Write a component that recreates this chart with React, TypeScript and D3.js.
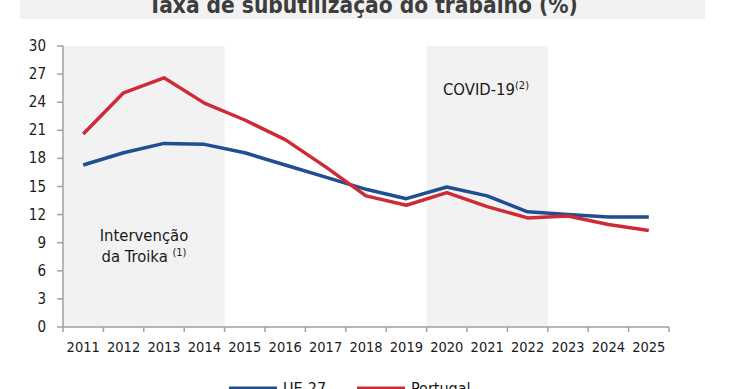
import React from "react";
import * as d3 from "d3";

const years = ["2011","2012","2013","2014","2015","2016","2017","2018","2019","2020","2021","2022","2023","2024","2025"];
const ue27 = [17.3, 18.6, 19.6, 19.5, 18.6, 17.3, 16.0, 14.7, 13.7, 14.95, 14.0, 12.3, 12.0, 11.75, 11.75];
const portugal = [20.6, 25.0, 26.6, 23.9, 22.1, 20.0, 17.1, 14.0, 13.0, 14.35, 12.85, 11.65, 11.85, 10.95, 10.3];
const yTicks = [0, 3, 6, 9, 12, 15, 18, 21, 24, 27, 30];
const shadedPeriods = [
  { from: "2011", to: "2014" },
  { from: "2020", to: "2022" },
];
const title = "Taxa de subutilização do trabalho (%)";
const legendItems = [
  { name: "UE-27", color: "#1f4e93" },
  { name: "Portugal", color: "#cf2b37" },
];

const FONT = "'DejaVu Sans Condensed', 'Noto Sans', sans-serif";

export default function App() {
  const W = 740, H = 389;
  const left = 63, right = 669, top = 46, bottom = 327;
  const x = d3.scaleBand().domain(years).range([left, right]).padding(0);
  const y = d3.scaleLinear().domain([0, 30]).range([bottom, top]);
  const cx = (yr: string) => (x(yr) as number) + x.bandwidth() / 2;

  const line = (vals: number[]) =>
    d3.line<number>().x((_, i) => cx(years[i])).y((v) => y(v))(vals) as string;

  const axisColor = "#a0a0a0";
  const textColor = "#1a1a1a";

  return (
    <svg width={W} height={H} style={{ position: "fixed", left: 0, top: 0, background: "#fff" }} fontFamily={FONT}>
      {/* title */}
      <rect x={20} y={-5} width={685} height={24} fill="#f2f2f2" />
      <text x={363} y={13} textAnchor="middle" fontSize={22.5} fontWeight="bold" fill="#3d3d3d">{title}</text>

      {/* shaded periods */}
      {shadedPeriods.map((p, i) => (
        <rect key={i} x={x(p.from) as number} y={top}
          width={(x(p.to) as number) + x.bandwidth() - (x(p.from) as number)}
          height={bottom - top} fill="#f2f2f2" />
      ))}

      {/* annotations */}
      <text x={144} y={241} textAnchor="middle" fontSize={16.5} fill={textColor}>Intervenção</text>
      <text x={144} y={262} textAnchor="middle" fontSize={16.5} fill={textColor}>
        da Troika <tspan fontSize={11} dy={-6}>(1)</tspan>
      </text>
      <text x={486} y={95} textAnchor="middle" fontSize={16.5} fill={textColor}>
        COVID-19<tspan fontSize={11} dy={-6}>(2)</tspan>
      </text>

      {/* y axis */}
      <line x1={left} x2={left} y1={top} y2={bottom} stroke={axisColor} strokeWidth={1.5} />
      {yTicks.map((t) => (
        <g key={t}>
          <line x1={left - 6} x2={left} y1={y(t)} y2={y(t)} stroke={axisColor} strokeWidth={1.5} />
          <text x={46} y={y(t) + 5} textAnchor="end" fontSize={15} fill={textColor}>{t}</text>
        </g>
      ))}

      {/* x axis */}
      <line x1={left} x2={right} y1={bottom} y2={bottom} stroke={axisColor} strokeWidth={1.5} />
      {[...years.map((yr) => x(yr) as number), right].map((px, i) => (
        <line key={i} x1={px} x2={px} y1={bottom} y2={bottom + 5} stroke={axisColor} strokeWidth={1.5} />
      ))}
      {years.map((yr) => (
        <text key={yr} x={cx(yr)} y={352} textAnchor="middle" fontSize={14.5} fill={textColor}>{yr}</text>
      ))}

      {/* lines */}
      <path d={line(ue27)} fill="none" stroke={legendItems[0].color} strokeWidth={3.5} strokeLinejoin="round" />
      <path d={line(portugal)} fill="none" stroke={legendItems[1].color} strokeWidth={3.5} strokeLinejoin="round" />

      {/* legend */}
      {legendItems.map((it, i) => {
        const lx = i === 0 ? 229 : 357;
        return (
          <g key={it.name}>
            <line x1={lx} x2={lx + 48} y1={388} y2={388} stroke={it.color} strokeWidth={3} />
            <text x={lx + 54} y={394} fontSize={16} fill={textColor}>{it.name}</text>
          </g>
        );
      })}
    </svg>
  );
}
